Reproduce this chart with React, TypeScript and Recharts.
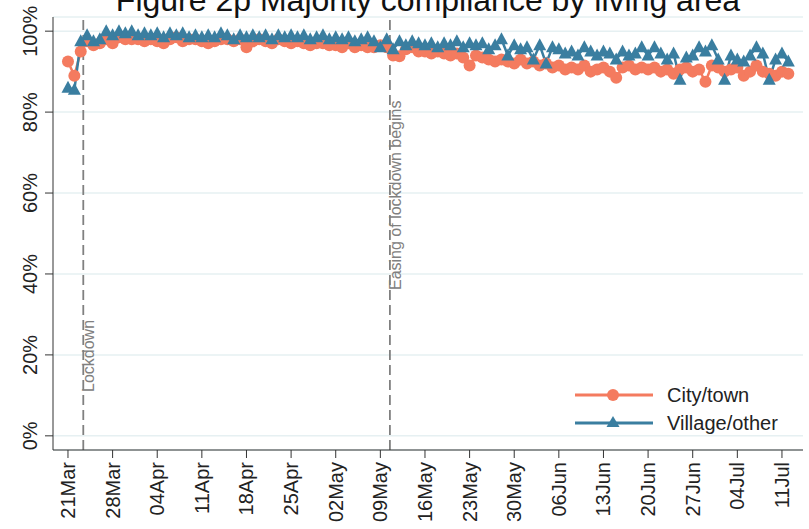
import React from "react";
import {
  LineChart,
  Line,
  XAxis,
  YAxis,
  CartesianGrid,
  ReferenceLine,
} from "recharts";

const FONT = "'Liberation Sans', Arial, sans-serif";
const CITY = "#F47B5F";
const VILLAGE = "#3A7EA0";

// x tick labels, one per week starting 21 Mar (day 0)
const weekLabels = [
  "21Mar", "28Mar", "04Apr", "11Apr", "18Apr", "25Apr", "02May", "09May",
  "16May", "23May", "30May", "06Jun", "13Jun", "20Jun", "27Jun", "04Jul", "11Jul",
];
const weekTicks = weekLabels.map((_, i) => i * 7);
const yTicks = [0, 20, 40, 60, 80, 100];

// daily % compliance, day 0 = 21 Mar
const cityTown = [
  92.5, 89, 95, 97.5, 96.5, 97, 98,
  97, 98.5, 98, 98, 98, 97.5, 98,
  97.5, 97, 98, 98.5, 97.5, 98, 98,
  97.5, 97, 97.5, 98, 98, 97.5, 98,
  96, 97.5, 98, 97.5, 97, 98, 97.5,
  97, 97.5, 97, 96.5, 97, 97, 96.5,
  96.5, 96, 97, 96, 96.5, 96, 96,
  96.5, 96, 94, 93.8, 95.5, 96, 95,
  95, 94.5, 95, 94.5, 94, 94.5, 93.5,
  91.5, 94, 93.5, 93, 92.5, 93, 92.5,
  92, 93, 92, 92.5, 91.5, 92, 91,
  91.5, 90.5, 91, 90.5, 91.5, 90, 90.5,
  91, 90, 88.5, 91, 91.5, 90.5, 91,
  90.5, 91, 90, 90.5, 89.5, 90.5, 91,
  90, 90.5, 87.5, 91.5, 91, 90, 90.5,
  91, 89, 90, 91.5, 90, 89.5, 89,
  90, 89.5,
];

const villageOther = [
  86, 85.5, 97.5, 99, 97.5, 98, 100,
  99, 100, 99.5, 100, 99, 99.5, 99,
  99.5, 98.5, 99.5, 99, 99.5, 98.5, 99,
  98.5, 99, 98.5, 99.5, 99, 98, 99,
  98.5, 99, 98.5, 99, 98, 99, 98.5,
  99, 98.5, 99, 98, 98.5, 99, 98,
  98.5, 98, 98.5, 97.5, 98, 98.5, 97.5,
  96, 98, 95.5, 97.5, 96.5, 97.5, 97,
  96.5, 97, 96, 97, 96.5, 97.5, 96,
  97, 96.5, 97, 95.5, 96.5, 98, 94,
  96.5, 95.5, 96, 93, 96.5, 92, 96,
  95.5, 94.5, 95, 94, 96, 95, 94,
  95, 94.5, 93, 95, 94, 94.5, 96,
  94, 96, 94.5, 93, 94.5, 88, 93.5,
  94, 96, 95, 96.5, 93, 88, 94,
  93, 92.5, 94, 96, 94.5, 88, 93,
  94.5, 92.5,
];

const data = cityTown.map((c, i) => ({
  day: i,
  city: c,
  village: villageOther[i],
}));

const YTick = (props: any) => {
  const { x, y, payload } = props;
  return (
    <text
      x={x - 6}
      y={y}
      transform={`rotate(-90, ${x - 6}, ${y})`}
      textAnchor="middle"
      fontFamily={FONT}
      fontSize={20}
      fill="#222"
    >
      {payload.value}%
    </text>
  );
};

const XTick = (props: any) => {
  const { x, y, payload } = props;
  const label = weekLabels[Math.round(payload.value / 7)];
  return (
    <text
      x={x + 7}
      y={y + 2}
      transform={`rotate(-90, ${x + 7}, ${y + 2})`}
      textAnchor="end"
      fontFamily={FONT}
      fontSize={20}
      fill="#222"
    >
      {label}
    </text>
  );
};

const vLabel = (text: string, fromBottom: number) => (props: any) => {
  const { viewBox } = props;
  const x = viewBox.x + 11;
  const y = viewBox.y + viewBox.height - fromBottom;
  return (
    <text
      x={x}
      y={y}
      transform={`rotate(-90, ${x}, ${y})`}
      textAnchor="start"
      fontFamily={FONT}
      fontSize={16}
      fill="#808080"
    >
      {text}
    </text>
  );
};

const Triangle = (props: any) => {
  const { cx, cy, index } = props;
  if (cx == null || cy == null) return <g key={`t-${index}`} />;
  return (
    <polygon
      key={`t-${index}`}
      points={`${cx},${cy - 7} ${cx - 6.5},${cy + 5} ${cx + 6.5},${cy + 5}`}
      fill={VILLAGE}
    />
  );
};

const Circle = (props: any) => {
  const { cx, cy, index } = props;
  if (cx == null || cy == null) return <g key={`c-${index}`} />;
  return <circle key={`c-${index}`} cx={cx} cy={cy} r={6} fill={CITY} />;
};

const legendItems = [
  { name: "City/town", color: CITY, marker: "circle" },
  { name: "Village/other", color: VILLAGE, marker: "triangle" },
];

const LegendBox = () => (
  <svg
    width={240}
    height={60}
    style={{ position: "absolute", left: 570, top: 380 }}
  >
    {legendItems.map((it, i) => {
      const cy = 15 + i * 28;
      return (
        <g key={it.name}>
          <line x1={5} x2={83} y1={cy} y2={cy} stroke={it.color} strokeWidth={3} />
          {it.marker === "circle" ? (
            <circle cx={43} cy={cy} r={6} fill={it.color} />
          ) : (
            <polygon
              points={`43,${cy - 7} 36.5,${cy + 4} 49.5,${cy + 4}`}
              fill={it.color}
            />
          )}
          <text
            x={97}
            y={cy + 7}
            fontFamily={FONT}
            fontSize={20}
            fill="#222"
          >
            {it.name}
          </text>
        </g>
      );
    })}
  </svg>
);

export default function App() {
  return (
    <div
      style={{
        position: "absolute",
        left: 0,
        top: 0,
        width: 809,
        height: 529,
        background: "#fff",
        overflow: "hidden",
      }}
    >
      <LineChart
        width={809}
        height={529}
        data={data}
        margin={{ top: 17, right: 6, left: 0, bottom: 0 }}
      >
        <CartesianGrid
          vertical={false}
          stroke="#E6F0F2"
          strokeWidth={1.5}
        />
        <XAxis
          dataKey="day"
          type="number"
          domain={[-2.35, 115.3]}
          allowDataOverflow
          ticks={weekTicks}
          interval={0}
          height={79}
          tickSize={8}
          tickMargin={2}
          stroke="#333"
          tickLine={{ stroke: "#333" }}
          tick={<XTick />}
        />
        <YAxis
          type="number"
          domain={[-3.5, 103.5]}
          allowDataOverflow
          ticks={yTicks}
          interval={0}
          width={53}
          tickSize={8}
          tickMargin={2}
          stroke="#333"
          tickLine={{ stroke: "#333" }}
          tick={<YTick />}
        />
        <ReferenceLine
          x={2.4}
          stroke="#808080"
          strokeWidth={1.8}
          strokeDasharray="10 5"
          label={vLabel("Lockdown", 58)}
        />
        <ReferenceLine
          x={50.5}
          stroke="#808080"
          strokeWidth={1.8}
          strokeDasharray="10 5"
          label={vLabel("Easing of lockdown begins", 160)}
        />
        <Line
          dataKey="city"
          name="City/town"
          stroke={CITY}
          strokeWidth={2.5}
          dot={Circle}
          activeDot={false}
          isAnimationActive={false}
        />
        <Line
          dataKey="village"
          name="Village/other"
          stroke={VILLAGE}
          strokeWidth={2.5}
          dot={Triangle}
          activeDot={false}
          isAnimationActive={false}
        />
      </LineChart>
      <LegendBox />
      <svg
        width={809}
        height={20}
        style={{ position: "absolute", left: 0, top: 0 }}
      >
        <text
          x={428}
          y={11}
          textAnchor="middle"
          fontFamily={FONT}
          fontSize={32}
          fill="#111"
        >
          Figure 2p Majority compliance by living area
        </text>
      </svg>
    </div>
  );
}
